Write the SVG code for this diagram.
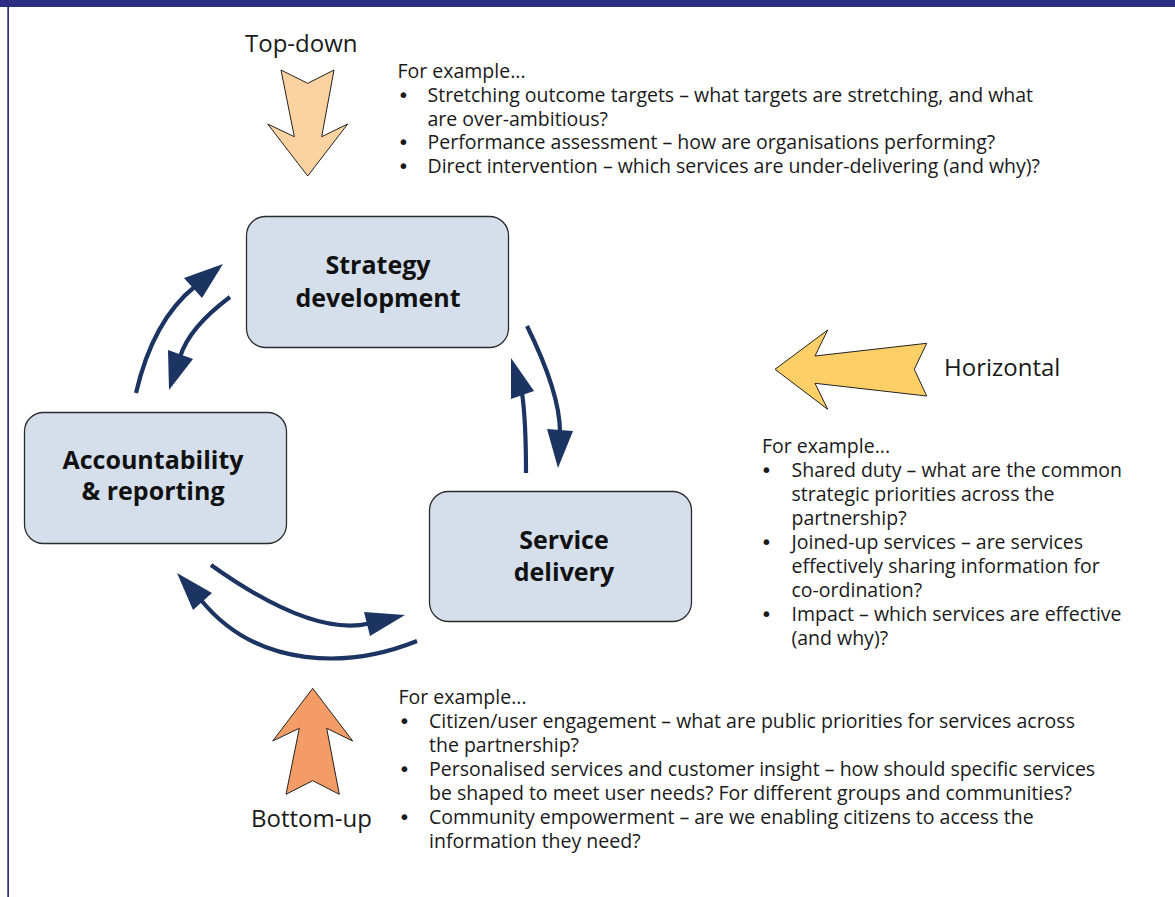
<svg xmlns="http://www.w3.org/2000/svg" width="1175" height="897" viewBox="0 0 1175 897">
<style>
.bg{fill:#ffffff}
.box{fill:#d5dfec;stroke:#2b2b2b;stroke-width:1.3}
.lbl{font-family:"Open Sans","Noto Sans",sans-serif;font-weight:bold;font-size:25px;fill:#111;text-anchor:middle}
.big{font-family:"Open Sans","Noto Sans",sans-serif;font-size:24px;fill:#1a1a1a}
.txt{font-family:"Open Sans","Noto Sans",sans-serif;font-size:19.5px;fill:#1a1a1a}
.bul{text-anchor:middle;font-family:"DejaVu Sans",sans-serif;font-size:20px}
.conn{fill:none;stroke:#1b3461;stroke-width:4.2}
.head{fill:#1b3461;stroke:none}
.blk{stroke:#222;stroke-width:1}
</style>
<rect class="bg" x="0" y="0" width="1175" height="897"/>
<rect x="0" y="0" width="1175" height="7" fill="#2c2f82"/>
<rect x="7.3" y="7" width="1.7" height="890" fill="#2c2f82"/>

<g id="topdown">
<polygon class="blk" fill="#fbd2a0" points="281,70 307.7,83.3 334,70 321.7,136.7 347.7,124 307.7,176 267.7,124 294.3,136.7"/>
<text class="big" x="245" y="52">Top-down</text>
</g>
<g id="horizontal">
<polygon class="blk" fill="#fecf66" points="775,369.3 827.7,330 815,356 926.7,343.3 914.3,369.3 926.7,396 815,383.3 827.7,409.3"/>
<text class="big" x="944" y="376">Horizontal</text>
</g>
<g id="bottomup">
<polygon class="blk" fill="#f49c66" points="312.7,688.3 352.7,741 326.7,728.3 339.3,794.3 312.7,780.7 286,794.3 299.3,728.3 272.7,741"/>
<text class="big" x="251" y="827">Bottom-up</text>
</g>

<g id="strategy">
<rect class="box" x="246.5" y="216.5" width="262" height="131" rx="19"/>
<text class="lbl" x="378" y="274">Strategy</text>
<text class="lbl" x="378" y="306.5">development</text>
</g>
<g id="accountability">
<rect class="box" x="24.5" y="412.5" width="262" height="131" rx="19"/>
<text class="lbl" x="153" y="468.5">Accountability</text>
<text class="lbl" x="153" y="499.5">&amp; reporting</text>
</g>
<g id="service">
<rect class="box" x="429.5" y="491.5" width="262" height="130" rx="19"/>
<text class="lbl" x="564" y="549">Service</text>
<text class="lbl" x="564" y="581">delivery</text>
</g>

<g id="connectors">
<path class="conn" d="M136,393 Q153,320 195,286.5"/>
<polygon class="head" points="223,264 184,278 202,298"/>
<path class="conn" d="M230,297 Q189,327.6 180,357"/>
<polygon class="head" points="169,390 168,350 193,359"/>
<path class="conn" d="M527,326 Q560,393 560,432"/>
<polygon class="head" points="558,468 547,429 573,431"/>
<path class="conn" d="M526,473 Q526,420 522,393"/>
<polygon class="head" points="511,358 511,399 534,391"/>
<path class="conn" d="M211,565 Q312,637 369,623.5"/>
<polygon class="head" points="405,615 364,612 370,636"/>
<path class="conn" d="M417,641 C350,668 258,670 201,600"/>
<polygon class="head" points="177,573 193,610 212,593"/>
</g>

<g id="text-top" class="txt">
<text x="397.5" y="78">For example...</text>
<text class="bul" x="403.5" y="101.8">•</text>
<text x="427.5" y="101.8">Stretching outcome targets – what targets are stretching, and what</text>
<text x="427.5" y="125.6">are over-ambitious?</text>
<text class="bul" x="403.5" y="149.4">•</text>
<text x="427.5" y="149.4">Performance assessment – how are organisations performing?</text>
<text class="bul" x="403.5" y="173.2">•</text>
<text x="427.5" y="173.2">Direct intervention – which services are under-delivering (and why)?</text>
</g>

<g id="text-right" class="txt">
<text x="762" y="453">For example...</text>
<text class="bul" x="766.5" y="477">•</text>
<text x="791.5" y="477">Shared duty – what are the common</text>
<text x="791.5" y="501">strategic priorities across the</text>
<text x="791.5" y="525">partnership?</text>
<text class="bul" x="766.5" y="549">•</text>
<text x="791.5" y="549">Joined-up services – are services</text>
<text x="791.5" y="573">effectively sharing information for</text>
<text x="791.5" y="597">co-ordination?</text>
<text class="bul" x="766.5" y="621">•</text>
<text x="791.5" y="621">Impact – which services are effective</text>
<text x="791.5" y="645">(and why)?</text>
</g>

<g id="text-bottom" class="txt">
<text x="398.5" y="704">For example...</text>
<text class="bul" x="404.5" y="728">•</text>
<text x="429" y="728">Citizen/user engagement – what are public priorities for services across</text>
<text x="429" y="752">the partnership?</text>
<text class="bul" x="404.5" y="776">•</text>
<text x="429" y="776">Personalised services and customer insight – how should specific services</text>
<text x="429" y="800">be shaped to meet user needs? For different groups and communities?</text>
<text class="bul" x="404.5" y="824">•</text>
<text x="429" y="824">Community empowerment – are we enabling citizens to access the</text>
<text x="429" y="848">information they need?</text>
</g>
</svg>
